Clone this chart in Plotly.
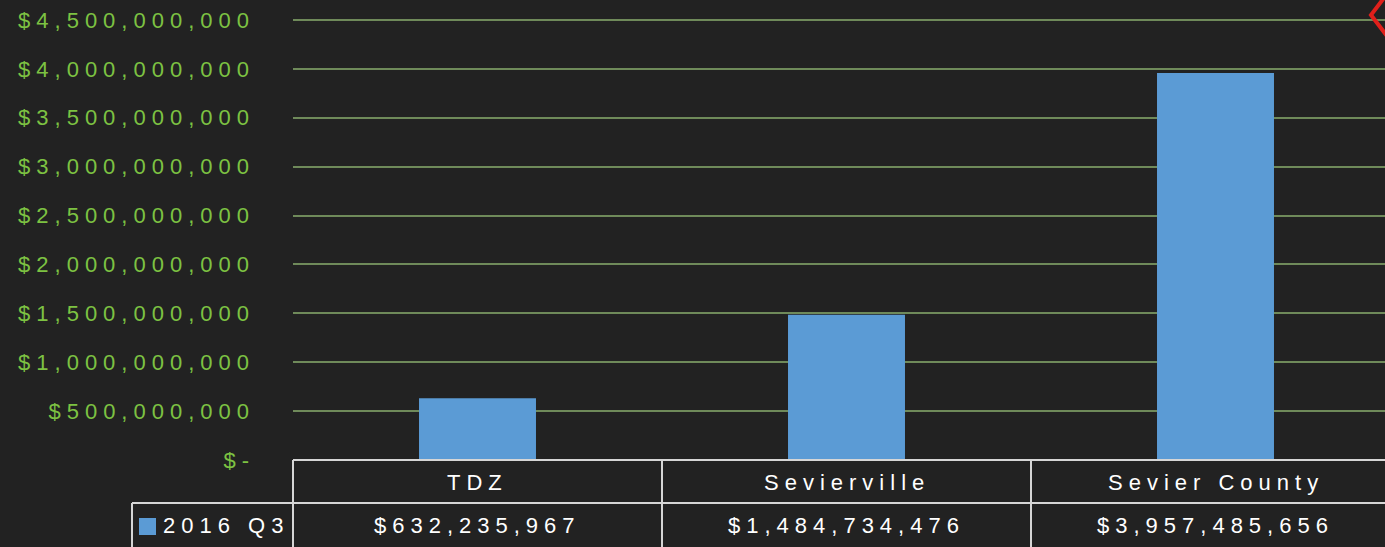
import plotly.graph_objects as go

categories = ["TDZ", "Sevierville", "Sevier County"]
series_name = "2016 Q3"
values = [632235967, 1484734476, 3957485656]
value_labels = ["$632,235,967", "$1,484,734,476", "$3,957,485,656"]
tick_vals = [0, 5e8, 1e9, 1.5e9, 2e9, 2.5e9, 3e9, 3.5e9, 4e9, 4.5e9]
tick_text = ["$-", "$500,000,000", "$1,000,000,000", "$1,500,000,000", "$2,000,000,000",
             "$2,500,000,000", "$3,000,000,000", "$3,500,000,000", "$4,000,000,000",
             "$4,500,000,000"]

W, H = 1385, 547
LEFT, TOP, BOTTOM = 293, 8, 460   # plot area in page pixels
COL_W = 369
BG = "#222222"
BLUE = "#5B9BD5"
GREEN = "#7DC242"
LINE = "#D6D6D6"
FONT = "Liberation Sans, Arial, sans-serif"

# 4.5bn gridline sits at y=20, zero at y=460
Y_PER_PX = 4.5e9 / (460 - 20)
y_top = (BOTTOM - TOP) * Y_PER_PX


def px_x(px):
    return (px - LEFT) / (W - LEFT)


def px_y(py):
    return (BOTTOM - py) / (BOTTOM - TOP)


x_pos = list(range(len(categories)))
x_hi = -0.5 + (W - LEFT) / COL_W

fig = go.Figure()
fig.add_trace(go.Bar(
    x=x_pos, y=values, name=series_name,
    marker=dict(color=BLUE, line=dict(width=0)),
    width=0.317,
    hoverinfo="skip",
))

shapes = []


def hline(y, x0, x1):
    shapes.append(dict(type="line", xref="paper", yref="paper",
                       x0=px_x(x0), x1=px_x(x1), y0=px_y(y), y1=px_y(y),
                       line=dict(color=LINE, width=2), layer="above"))


def vline(x, y0, y1):
    shapes.append(dict(type="line", xref="paper", yref="paper",
                       x0=px_x(x), x1=px_x(x), y0=px_y(y0), y1=px_y(y1),
                       line=dict(color=LINE, width=2), layer="above"))


# data table grid
hline(460, 293, 1400)
hline(503, 132, 1400)
vline(132, 503, 560)
for i in range(len(categories)):
    vline(LEFT + i * COL_W, 460, 560)

# legend key
shapes.append(dict(type="rect", xref="paper", yref="paper",
                   x0=px_x(139), x1=px_x(156), y0=px_y(518), y1=px_y(535),
                   fillcolor=BLUE, line=dict(width=0), layer="above"))

# red decoration at top-right corner
shapes.append(dict(type="path", xref="paper", yref="paper",
                   path=f"M {px_x(1390)},{px_y(-10)} L {px_x(1371)},{px_y(15)} L {px_x(1390)},{px_y(40)}",
                   line=dict(color="#E0201B", width=4), layer="above"))

cell_font = dict(color="white", size=22, family=FONT)
annotations = []
for i, (cat, lab) in enumerate(zip(categories, value_labels)):
    annotations.append(dict(x=i, xref="x", y=px_y(482), yref="paper", text=cat,
                            yanchor="middle", showarrow=False, font=cell_font))
    annotations.append(dict(x=i, xref="x", y=px_y(525), yref="paper", text=lab,
                            yanchor="middle", showarrow=False, font=cell_font))
# annotation text is drawn centred, so centre it on where the label sits
annotations.append(dict(x=px_x(226), xref="paper", y=px_y(525), yref="paper", text=series_name,
                        xanchor="center", yanchor="middle", showarrow=False, font=cell_font))

fig.update_layout(
    width=W, height=H,
    margin=dict(l=LEFT, r=0, t=TOP, b=H - BOTTOM, pad=0),
    paper_bgcolor=BG, plot_bgcolor=BG,
    showlegend=False,
    xaxis=dict(range=[-0.5, x_hi], showticklabels=False, showgrid=False,
               zeroline=False, showline=False, fixedrange=True),
    yaxis=dict(range=[0, y_top], tickvals=tick_vals, ticktext=tick_text,
               tickfont=dict(color=GREEN, size=22, family=FONT),
               showgrid=True, gridcolor="#6F8A5A", gridwidth=1.5,
               zeroline=False, showline=False, ticks="", ticklabelstandoff=37),
    shapes=shapes,
    annotations=annotations,
)

# page margin off, and the wide letter spacing of the original slide text
post = (
    "document.body.style.margin='0';"
    "document.querySelectorAll('.ytick text, .annotation-text').forEach("
    "function(t){t.style.letterSpacing='6px';});"
)

fig.write_html("out.html", config={"displayModeBar": False}, post_script=post)
